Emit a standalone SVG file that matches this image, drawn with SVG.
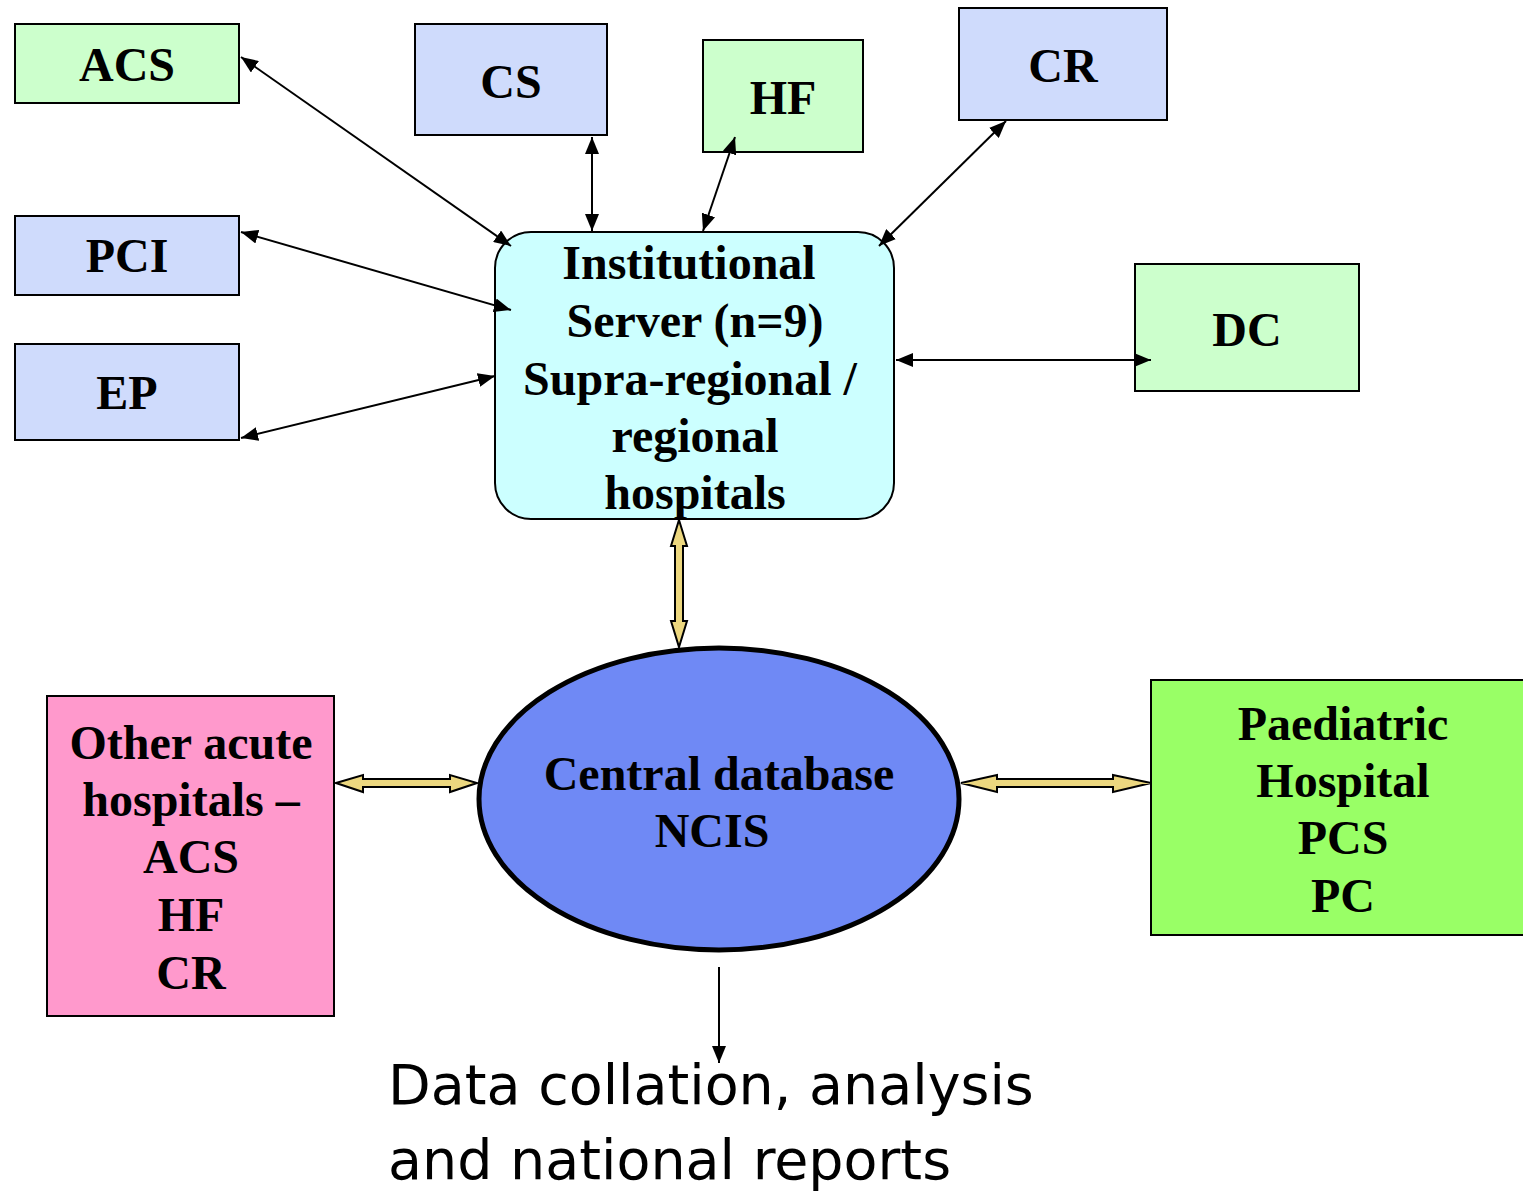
<svg xmlns="http://www.w3.org/2000/svg" width="1523" height="1193" viewBox="0 0 1523 1193">
<style>
.box{stroke:#000;stroke-width:2}
.blue{fill:#cfdbfc}
.green{fill:#ccffcc}
.t{font-family:"Liberation Serif","Times New Roman",serif;font-weight:bold;font-size:48px;text-anchor:middle;fill:#000}
.c{stroke:#000;stroke-width:2;fill:none;marker-start:url(#ah);marker-end:url(#ah)}
.y{fill:#ecd77f;stroke:#000;stroke-width:2;stroke-linejoin:miter}
.s{font-family:"DejaVu Sans","Verdana",sans-serif;font-size:55.5px;fill:#000}
</style>
<defs>
<marker id="ah" markerUnits="userSpaceOnUse" markerWidth="18" markerHeight="14" refX="17" refY="7" orient="auto-start-reverse">
<path d="M0,0 L17,7 L0,14 z" fill="#000"/>
</marker>
</defs>
<rect width="1523" height="1193" fill="#fff"/>
<g id="acs"><rect class="box green" x="15" y="24" width="224" height="79"/><text class="t" x="127" y="81">ACS</text></g>
<g id="cs"><rect class="box blue" x="415" y="24" width="192" height="111"/><text class="t" x="511" y="98">CS</text></g>
<g id="hf"><rect class="box green" x="703" y="40" width="160" height="112"/><text class="t" x="783" y="114">HF</text></g>
<g id="cr"><rect class="box blue" x="959" y="8" width="208" height="112"/><text class="t" x="1063" y="82">CR</text></g>
<g id="pci"><rect class="box blue" x="15" y="216" width="224" height="79"/><text class="t" x="127" y="272">PCI</text></g>
<g id="ep"><rect class="box blue" x="15" y="344" width="224" height="96"/><text class="t" x="127" y="409">EP</text></g>
<g id="dc"><rect class="box green" x="1135" y="264" width="224" height="127"/><text class="t" x="1247" y="346">DC</text></g>
<g id="server"><rect class="box" x="495" y="232" width="399" height="287" rx="36" ry="36" fill="#ccffff"/>
<text class="t" x="689" y="279">Institutional</text>
<text class="t" x="695" y="337">Server (n=9)</text>
<text class="t" x="690" y="395">Supra-regional /</text>
<text class="t" x="695" y="452">regional</text>
<text class="t" x="695" y="509">hospitals</text></g>
<g id="ncis"><ellipse cx="719" cy="799" rx="240" ry="151" fill="#6f89f5" stroke="#000" stroke-width="5"/>
<text class="t" x="719" y="790">Central database</text>
<text class="t" x="712" y="847">NCIS</text></g>
<g id="other"><rect class="box" x="47" y="696" width="287" height="320" fill="#ff99cc"/>
<text class="t" x="191" y="759">Other acute</text>
<text class="t" x="191" y="816">hospitals –</text>
<text class="t" x="191" y="873">ACS</text>
<text class="t" x="191" y="931">HF</text>
<text class="t" x="191" y="989">CR</text></g>
<g id="paed"><rect class="box" x="1151" y="680" width="380" height="255" fill="#99ff66"/>
<text class="t" x="1343" y="740">Paediatric</text>
<text class="t" x="1343" y="797">Hospital</text>
<text class="t" x="1343" y="854">PCS</text>
<text class="t" x="1343" y="912">PC</text></g>
<g id="report"><text class="s" x="388" y="1104">Data collation, analysis</text>
<text class="s" x="388" y="1179">and national reports</text></g>
<g id="connectors">
<line class="c" x1="241" y1="57" x2="511" y2="246"/>
<line class="c" x1="592" y1="137" x2="592" y2="231"/>
<line class="c" x1="735" y1="137" x2="703" y2="231"/>
<line class="c" x1="1006" y1="121" x2="879" y2="246"/>
<line class="c" x1="241" y1="232" x2="511" y2="310"/>
<line class="c" x1="241" y1="438" x2="495" y2="376"/>
<line class="c" x1="896" y1="360" x2="1151" y2="360"/>
<line x1="719" y1="967" x2="719" y2="1063" stroke="#000" stroke-width="2" marker-end="url(#ah)"/>
<polygon class="y" points="679,520 687,546 683,546 683,621 687,621 679,647 671,621 675,621 675,546 671,546"/>
<polygon class="y" points="336,783 363,775 363,779 450,779 450,775 477,783 450,792 450,787 363,787 363,792"/>
<polygon class="y" points="961,783 997,775 997,779 1113,779 1113,775 1151,783 1113,792 1113,787 997,787 997,792"/>
</g>
</svg>
